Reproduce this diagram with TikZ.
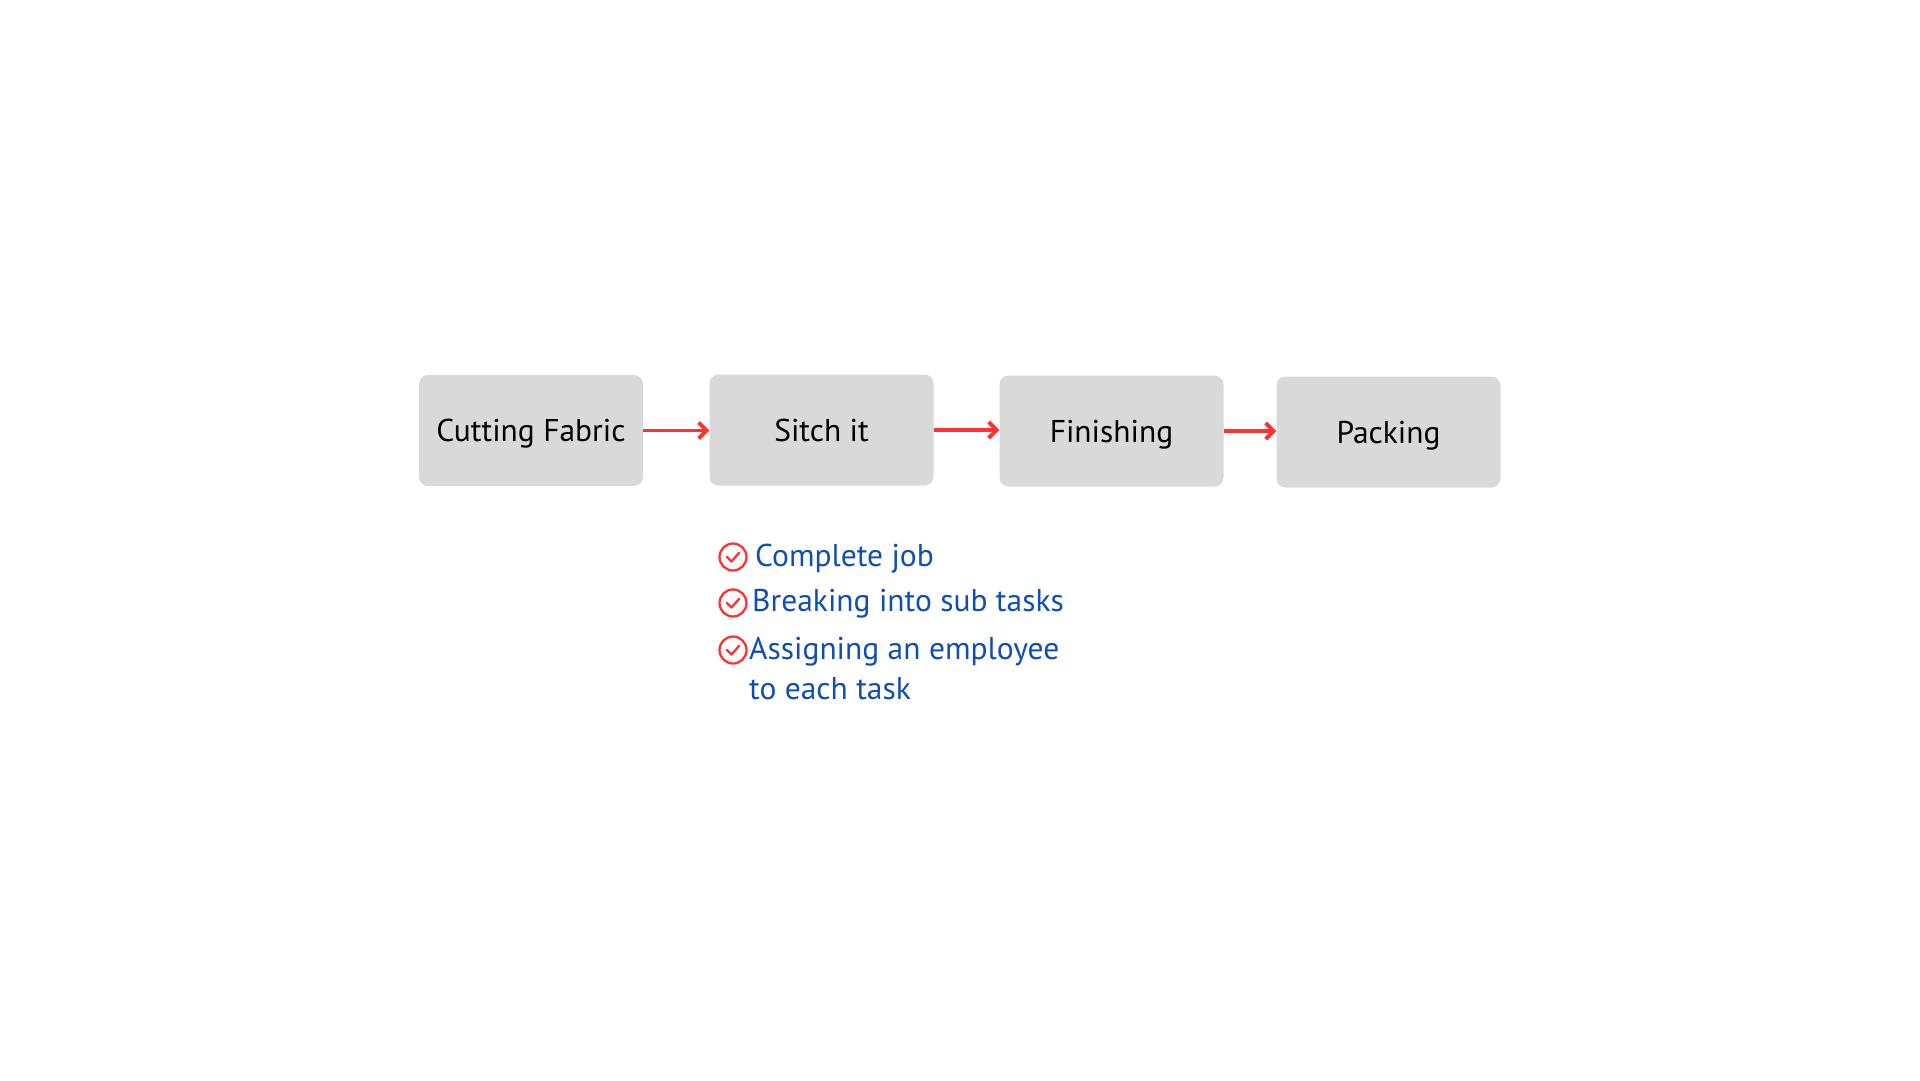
\documentclass[tikz,border=0pt]{standalone}
\usepackage{fontspec}
\setmainfont{PT Sans}
\usetikzlibrary{arrows.meta}
\definecolor{boxgray}{HTML}{D9D9D9}
\definecolor{arrred}{HTML}{FF3131}
\definecolor{listblue}{HTML}{0F4EB3}
\tikzset{
  stepbox/.style={fill=boxgray, rounded corners=9pt, minimum width=224pt, minimum height=111pt, inner sep=0pt, font=\fontsize{31.5}{36}\selectfont, text=black, text height=22pt, text depth=0pt},
  flowarrow/.style={draw=arrred, line width=3.8pt, -{Straight Barb[length=8pt,width=16pt,line width=3.8pt]}},
  checkicon/.style={draw=arrred, line width=2.3pt, circle, minimum size=27pt, inner sep=0pt},
  listtext/.style={text=listblue, font=\fontsize{31.5}{39.5}\selectfont, anchor=west, inner sep=0pt, align=left}
}
\begin{document}
\begin{tikzpicture}[x=1pt,y=-1pt]
\useasboundingbox (0,0) rectangle (1920,1080);
\node[stepbox] (a) at (531,430.5) {Cutting Fabric};
\node[stepbox] (b) at (821.5,430) {Sitch it};
\node[stepbox] (c) at (1111.5,431) {Finishing};
\node[stepbox] (d) at (1388.5,432) {Packing};
\draw[flowarrow] (a.east) -- (a.east -| b.west);
\draw[flowarrow] (b.east) -- (b.east -| c.west);
\draw[flowarrow] (c.east) -- (c.east -| d.west);
\foreach \n/\y in {i1/557, i2/603, i3/650}{
  \node[checkicon] (\n) at (733,\y) {};
  \draw[arrred, line width=2.3pt, line cap=round, line join=round] ([shift={(-6,0)}]\n.center) -- ([shift={(-1.5,4.5)}]\n.center) -- ([shift={(6,-4)}]\n.center);
}
\node[listtext] (t1) at (755,559) {Complete job};
\node[listtext] (t2) at (752,604) {Breaking into sub tasks};
\node[listtext, anchor=north west] (t3) at (749,637) {Assigning an employee\\to each task};
\end{tikzpicture}
\end{document}
